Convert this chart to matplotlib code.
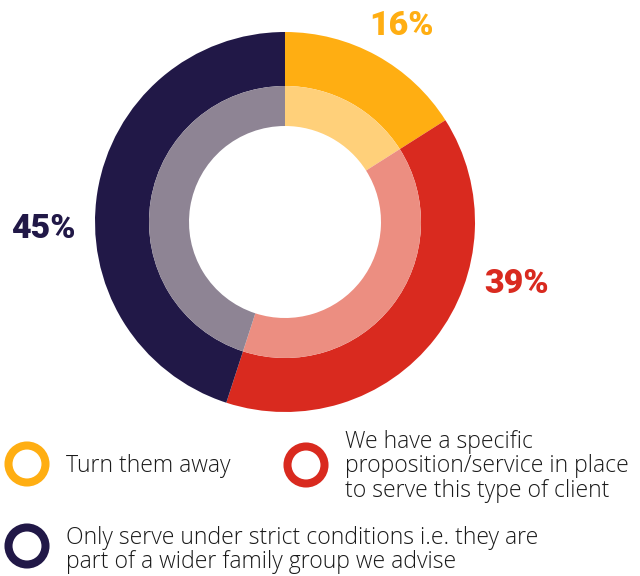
import matplotlib
matplotlib.use('Agg')
import matplotlib.pyplot as plt
from matplotlib.patches import Circle

labels = ['Turn them away',
          'We have a specific\nproposition/service in place\nto serve this type of client',
          'Only serve under strict conditions i.e. they are\npart of a wider family group we advise']
values = [16, 39, 45]
pct_labels = ['16%', '39%', '45%']

colors = ['#FFAE12', '#D92A1F', '#211847']
light_colors = ['#FFD07A', '#EC8E81', '#8E8494']

W, H = 640, 576
fig = plt.figure(figsize=(W / 100, H / 100), dpi=100)
ax = fig.add_axes([0, 0, 1, 1])

cx, cy = 285, H - 222

# outer ring
ax.pie(values, colors=colors, startangle=90, counterclock=False,
       radius=190, center=(cx, cy), frame=True,
       wedgeprops=dict(width=54, linewidth=0))
# inner, lighter ring
ax.pie(values, colors=light_colors, startangle=90, counterclock=False,
       radius=136, center=(cx, cy), frame=True,
       wedgeprops=dict(width=40, linewidth=0))
ax.set_xlim(0, W)
ax.set_ylim(0, H)
ax.set_aspect('equal')
ax.axis('off')

# percentage labels (x centre, baseline)
pct_pos = [(402, H - 35), (517, H - 293), (43, H - 238)]
for (x, y), txt, c in zip(pct_pos, pct_labels, colors):
    ax.text(x, y, txt, color=c, fontsize=24.5, fontweight='heavy',
            family='Roboto', ha='center', va='baseline')

# legend rings and texts (ring centre, text x, first baseline)
leg_pos = [(27, 464, 66, 472), (306, 465, 345, 448), (27, 546, 66, 544)]
for (x, y, tx, b0), txt, c in zip(leg_pos, labels, colors):
    ax.add_patch(Circle((x, H - y), 18.5, fill=False, edgecolor=c, linewidth=5.8))
    for i, line in enumerate(txt.split('\n')):
        ax.text(tx, H - (b0 + i * 24.5), line, color='#1a1a1a', fontsize=16.6,
                family='Open Sans', fontweight='light', ha='left', va='baseline')

fig.savefig('out.png', dpi=100, facecolor='white')
